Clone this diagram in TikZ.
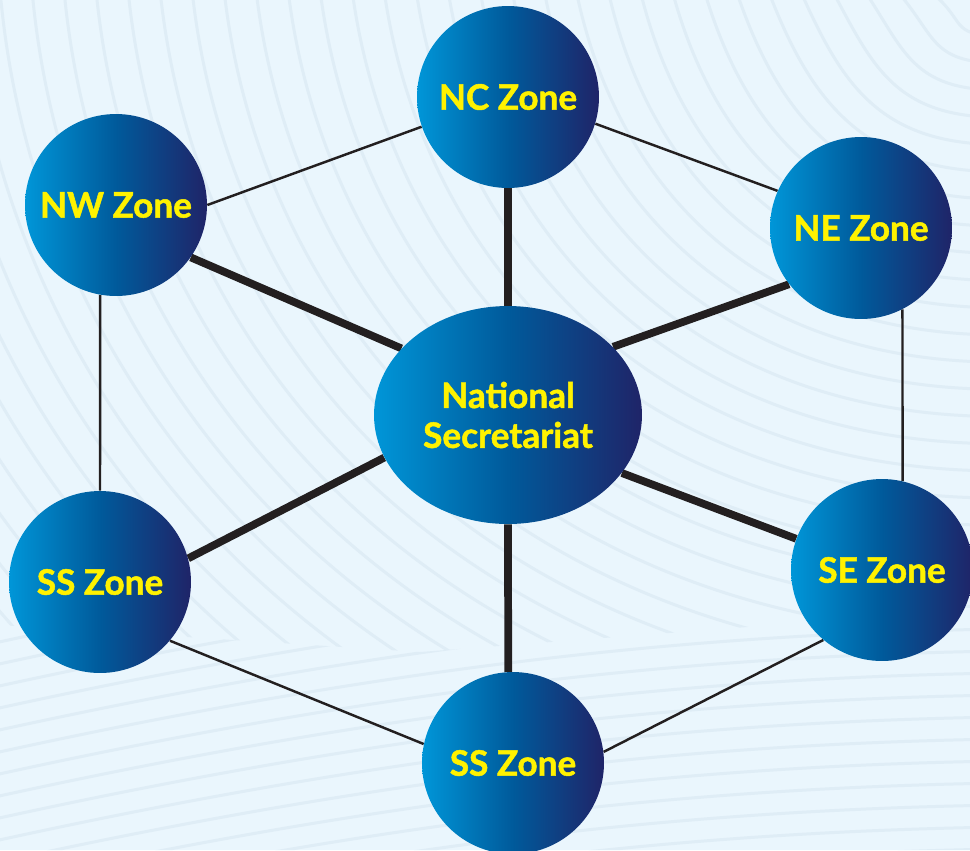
\documentclass[tikz,border=0pt]{standalone}
\usepackage{fontspec}
\setmainfont{Lato}[BoldFeatures={FakeBold=1.4}]
\usetikzlibrary{shapes.geometric}

\definecolor{paper}{HTML}{EAF6FD}
\definecolor{waveline}{HTML}{DFEDF6}
\definecolor{zoneleft}{HTML}{0096D8}
\definecolor{zonemid}{HTML}{005A9B}
\definecolor{zoneright}{HTML}{1F2468}
\definecolor{zonetext}{HTML}{FFF200}
\definecolor{linkgray}{HTML}{231F20}

\pgfdeclarelayer{back}\pgfdeclarelayer{edges}
\pgfsetlayers{back,edges,main}

\begin{document}
\begin{tikzpicture}[x=0.02cm,y=-0.02cm,
  zone/.style={circle,minimum size=3.64cm,inner sep=0pt,align=center,
    left color=zoneleft,right color=zoneright,middle color=zonemid,
    text=zonetext,font=\fontsize{20}{22.7}\selectfont\bfseries},
  hub/.style={zone,ellipse,minimum width=5.36cm,minimum height=4.36cm},
  ring/.style={draw=linkgray,line width=1.4pt},
  spoke/.style={draw=linkgray,line width=4.4pt},
  wave/.style={draw=waveline,line width=1.7pt}]
\useasboundingbox (0,0) rectangle (970,850);

% zones round the secretariat
\node[hub] (hub) at (508,415) {National\\Secretariat};
\node[zone] (nc) at (508,97) {NC Zone};\node[zone] (nw) at (116,205) {NW Zone};
\node[zone] (ne) at (861,228) {NE Zone};\node[zone] (se) at (882,570) {SE Zone};
\node[zone] (sw) at (100,582) {SS Zone};\node[zone] (ss) at (513,763) {SS Zone};

% paper and faint waves
\begin{pgfonlayer}{back}
\fill[paper] (0,0) rectangle (970,850);
\begin{scope}
\clip (0,0) -- (970,0) -- (970,610) -- (420,652) -- (0,625) -- cycle;
\foreach \a in {-480,-448,...,960}{
  \pgfmathsetmacro\b{0.85*(970-\a)}
  \draw[wave] (\a,-10) .. controls (\a+40,0.55*\b) and ({\a+0.45*(970-\a)},\b) .. (1000,\b);
}
\end{scope}
\begin{scope}
\clip (0,850) -- (0,625) -- (420,652) -- (970,610) -- (970,850) -- cycle;
\foreach \y in {600,622,...,1020}
  \draw[wave] (-10,\y) .. controls (400,\y-90) and (700,\y-120) .. (1000,\y-125);
\end{scope}
\end{pgfonlayer}

\begin{pgfonlayer}{edges}
\draw[ring] (nw.0)--(nc.199);\draw[ring] (nc.-17)--(ne.156);
\draw[ring] (ne.-63)--(se.77);\draw[ring] (se.230)--(ss.7);
\draw[ring] (ss.168)--(sw.-40);\draw[ring] (sw.90)--(nw.260);
\draw[spoke] (hub.90)--(nc.270);\draw[spoke] (hub.148)--(nw.-35);
\draw[spoke] (hub.33)--(ne.218);\draw[spoke] (hub.-27)--(se.160);
\draw[spoke] (hub.199)--(sw.15);\draw[spoke] (hub.270)--(ss.93);
\end{pgfonlayer}
\end{tikzpicture}
\end{document}
